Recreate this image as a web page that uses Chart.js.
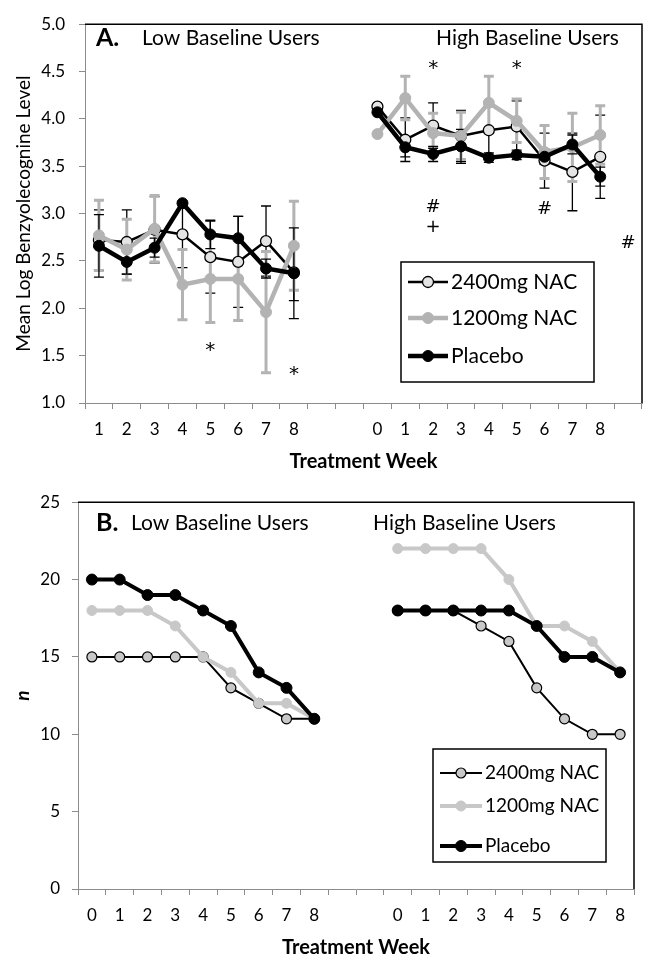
<!DOCTYPE html>
<html>
<head>
<meta charset="utf-8">
<script src="https://cdn.jsdelivr.net/npm/chart.js@4"></script>
<style>
  html, body { margin: 0; padding: 0; background: #fff; }
  #boxA { position: absolute; left: 0; top: 0; }
  #boxB { position: absolute; left: 0; top: 480px; }
</style>
</head>
<body>
<canvas id="boxA" width="653" height="480"></canvas>
<canvas id="boxB" width="653" height="481"></canvas>
<script>
// ---- panel A: mean log benzoylecgonine, low / high baseline users ----
var weeksA = ['1','2','3','4','5','6','7','8','','','0','1','2','3','4','5','6','7','8',''];
var nac2400A = [2.72,2.70,2.83,2.78,2.54,2.49,2.71,2.38,null,null,4.13,3.78,3.93,3.82,3.88,3.92,3.56,3.44,3.60,null];
var nac1200A = [2.77,2.62,2.84,2.25,2.31,2.31,1.96,2.66,null,null,3.84,4.22,3.85,3.82,4.17,3.98,3.65,3.70,3.83,null];
var placeboA = [2.66,2.49,2.64,3.11,2.78,2.74,2.42,2.37,null,null,4.07,3.70,3.63,3.71,3.59,3.62,3.60,3.73,3.39,null];
var err2400A = [0.32,0.34,0.35,0.35,0.38,0.48,0.37,0.30,null,null,0,0.23,0.24,0.27,0.28,0.27,0.29,0.41,0.44,null];
var err1200A = [0.37,0.32,0.35,0.37,0.46,0.44,0.64,0.47,null,null,0,0.23,0.21,0.25,0.28,0.23,0.28,0.36,0.31,null];
var errPlaceboA = [0.33,0.13,0.10,0,0.15,0.23,0.10,0.48,null,null,0,0.10,0.08,0.18,0.05,0.05,0.08,0.10,0.10,null];
// significance marks: [text, category index, y value]
var notesA = [['*',4,1.58],['*',7,1.33],['*',12,4.56],['*',15,4.56],['#',12,3.07],['+',12,2.85],['#',16,3.04],['#',19,2.69]];

// ---- panel B: n per week ----
var weeksB = ['0','1','2','3','4','5','6','7','8','','','0','1','2','3','4','5','6','7','8'];
var nac2400B = [15,15,15,15,15,13,12,11,11,null,null,18,18,18,17,16,13,11,10,10];
var nac1200B = [18,18,18,17,15,14,12,12,11,null,null,22,22,22,22,20,17,17,16,14];
var placeboB = [20,20,19,19,18,17,14,13,11,null,null,18,18,18,18,18,17,15,15,14];

var FONT = 'Lato, "Open Sans", sans-serif';
Chart.defaults.font.family = FONT;
Chart.defaults.color = '#000';

var errorBars = {
  id: 'errorBars',
  beforeDatasetsDraw: function (chart) {
    var ctx = chart.ctx, ys = chart.scales.y;
    chart.data.datasets.forEach(function (ds, di) {
      if (!ds.errors) return;
      var meta = chart.getDatasetMeta(di);
      ctx.save();
      ctx.strokeStyle = ds.errorColor;
      ctx.lineWidth = ds.errorWidth;
      meta.data.forEach(function (pt, i) {
        var v = ds.data[i], e = ds.errors[i];
        if (v == null || !e) return;
        var t = ys.getPixelForValue(v + e), b = ys.getPixelForValue(v - e);
        ctx.beginPath();
        ctx.moveTo(pt.x, t); ctx.lineTo(pt.x, b);
        ctx.moveTo(pt.x - 5, t); ctx.lineTo(pt.x + 5, t);
        ctx.moveTo(pt.x - 5, b); ctx.lineTo(pt.x + 5, b);
        ctx.stroke();
      });
      ctx.restore();
    });
  }
};

var extras = {
  id: 'extras',
  afterDraw: function (chart, args, opts) {
    var ctx = chart.ctx, a = chart.chartArea, xs = chart.scales.x, ys = chart.scales.y;
    ctx.save();
    // plot frame (top + right)
    ctx.strokeStyle = '#000';
    ctx.lineWidth = 1.5;
    ctx.beginPath();
    ctx.moveTo(a.left, a.top); ctx.lineTo(a.right, a.top); ctx.lineTo(a.right, a.bottom);
    ctx.stroke();

    ctx.textBaseline = 'middle';
    ctx.fillStyle = '#000';
    (opts.headings || []).forEach(function (h) {
      ctx.font = h.font;
      ctx.textAlign = 'left';
      ctx.fillText(h.text, h.x, h.y);
    });

    (opts.notes || []).forEach(function (n) {
      ctx.font = (n[0] === '*' ? '20px ' : '18px ') + '"DejaVu Sans", sans-serif';
      ctx.textAlign = 'center';
      ctx.fillText(n[0], xs.getPixelForValue(n[1]), ys.getPixelForValue(n[2]) + (n[0] === '*' ? 3 : 0));
    });

    // legend box
    var L = opts.legend;
    if (L) {
      ctx.fillStyle = '#fff';
      ctx.fillRect(L.x, L.y, L.w, L.h);
      ctx.strokeStyle = '#000';
      ctx.lineWidth = 1.5;
      ctx.strokeRect(L.x, L.y, L.w, L.h);
      chart.data.datasets.forEach(function (ds, i) {
        var yy = L.y + L.rows[i];
        var x0 = L.x + 7, x1 = x0 + L.line;
        ctx.strokeStyle = ds.borderColor;
        ctx.lineWidth = ds.borderWidth;
        ctx.beginPath(); ctx.moveTo(x0, yy); ctx.lineTo(x1, yy); ctx.stroke();
        ctx.beginPath();
        ctx.arc((x0 + x1) / 2, yy, ds.pointRadius, 0, Math.PI * 2);
        ctx.fillStyle = ds.pointBackgroundColor;
        ctx.fill();
        ctx.lineWidth = ds.pointBorderWidth || 1;
        ctx.strokeStyle = ds.pointBorderColor;
        ctx.stroke();
        ctx.fillStyle = '#000';
        ctx.font = L.font;
        ctx.textAlign = 'left';
        ctx.fillText(ds.label, x1 + 3, yy);
      });
    }
    ctx.restore();
  }
};

function xAxis(h) {
  return {
    type: 'category',
    offset: true,
    grid: { offset: true, drawOnChartArea: false, tickLength: 6, color: '#8c8c8c' },
    border: { color: '#8c8c8c', width: 1 },
    ticks: { autoSkip: false, maxRotation: 0, padding: 10, font: { size: 17 } },
    title: { display: true, text: 'Treatment Week', font: { size: 20, weight: 'bold' }, padding: { top: 0, bottom: 1 } },
    afterFit: function (s) { s.height = h; }
  };
}

new Chart(document.getElementById('boxA'), {
  type: 'line',
  data: {
    labels: weeksA,
    datasets: [
      { label: '2400mg NAC', data: nac2400A, errors: err2400A, errorColor: '#000', errorWidth: 1.3,
        borderColor: '#000', borderWidth: 2.5, pointBackgroundColor: '#e4e4e4', pointBorderColor: '#000',
        pointBorderWidth: 1.3, pointRadius: 5.5, order: 3 },
      { label: '1200mg NAC', data: nac1200A, errors: err1200A, errorColor: '#b3b3b3', errorWidth: 3,
        borderColor: '#b3b3b3', borderWidth: 4.5, pointBackgroundColor: '#b3b3b3', pointBorderColor: '#b3b3b3',
        pointBorderWidth: 1, pointRadius: 5.5, order: 2 },
      { label: 'Placebo', data: placeboA, errors: errPlaceboA, errorColor: '#000', errorWidth: 1.3,
        borderColor: '#000', borderWidth: 4.5, pointBackgroundColor: '#000', pointBorderColor: '#000',
        pointBorderWidth: 1, pointRadius: 5.5, order: 1 }
    ]
  },
  options: {
    responsive: false,
    animation: false,
    spanGaps: false,
    layout: { padding: { top: 16, right: 11, bottom: 5, left: 0 } },
    scales: {
      x: xAxis(72),
      y: {
        min: 1, max: 5,
        grid: { drawOnChartArea: false, tickLength: 6, color: '#8c8c8c' },
        border: { color: '#8c8c8c', width: 1 },
        ticks: { stepSize: 0.5, padding: 14, font: { size: 17 }, callback: function (v) { return v.toFixed(1); } },
        title: { display: true, text: 'Mean Log Benzyolecognine Level', font: { size: 19 }, padding: { top: 12, bottom: 0 } },
        afterFit: function (s) { s.width = 85; }
      }
    },
    plugins: {
      legend: { display: false },
      tooltip: { enabled: false },
      extras: {
        headings: [
          { text: 'A.', x: 96, y: 38, font: 'bold 25px ' + FONT },
          { text: 'Low Baseline Users', x: 142, y: 38, font: '21px ' + FONT },
          { text: 'High Baseline Users', x: 436, y: 38, font: '21px ' + FONT }
        ],
        notes: notesA,
        legend: { x: 401, y: 262, w: 193, h: 120, rows: [20, 56, 94], line: 40, font: '21px ' + FONT }
      }
    }
  },
  plugins: [errorBars, extras]
});

new Chart(document.getElementById('boxB'), {
  type: 'line',
  data: {
    labels: weeksB,
    datasets: [
      { label: '2400mg NAC', data: nac2400B, borderColor: '#000', borderWidth: 2, pointBackgroundColor: '#c8c8c8',
        pointBorderColor: '#000', pointBorderWidth: 1.2, pointRadius: 5, order: 3 },
      { label: '1200mg NAC', data: nac1200B, borderColor: '#c8c8c8', borderWidth: 4, pointBackgroundColor: '#c8c8c8',
        pointBorderColor: '#c8c8c8', pointBorderWidth: 1, pointRadius: 5, order: 2 },
      { label: 'Placebo', data: placeboB, borderColor: '#000', borderWidth: 4, pointBackgroundColor: '#000',
        pointBorderColor: '#000', pointBorderWidth: 1, pointRadius: 5.5, order: 1 }
    ]
  },
  options: {
    responsive: false,
    animation: false,
    spanGaps: false,
    layout: { padding: { top: 18, right: 19, bottom: 0, left: 0 } },
    scales: {
      x: xAxis(72),
      y: {
        min: 0, max: 25,
        grid: { drawOnChartArea: false, tickLength: 6, color: '#8c8c8c' },
        border: { color: '#8c8c8c', width: 1 },
        ticks: { stepSize: 5, padding: 12, font: { size: 17 } },
        title: { display: true, text: 'n', font: { size: 19, weight: 'bold', style: 'italic' }, padding: { top: 11, bottom: 0 } },
        afterFit: function (s) { s.width = 78; }
      }
    },
    plugins: {
      legend: { display: false },
      tooltip: { enabled: false },
      extras: {
        headings: [
          { text: 'B.', x: 96, y: 43, font: 'bold 25px ' + FONT },
          { text: 'Low Baseline Users', x: 131, y: 43, font: '21px ' + FONT },
          { text: 'High Baseline Users', x: 373, y: 43, font: '21px ' + FONT }
        ],
        legend: { x: 433, y: 269, w: 173, h: 113, rows: [24, 57, 97], line: 42, font: '19px ' + FONT }
      }
    }
  },
  plugins: [errorBars, extras]
});
</script>
</body>
</html>
